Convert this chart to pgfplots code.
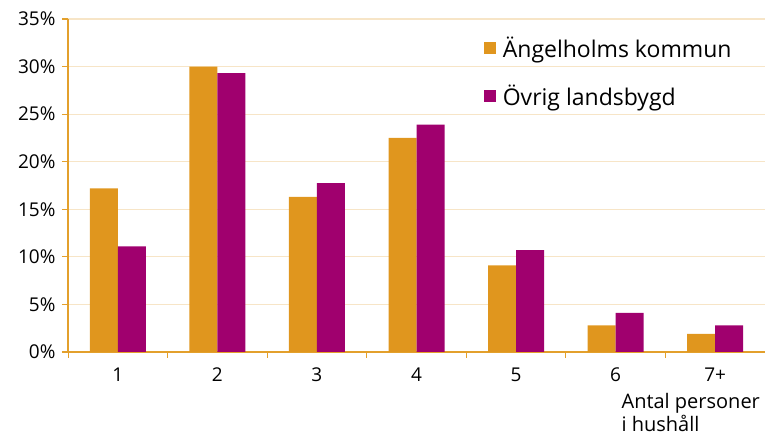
\documentclass[border=0pt]{standalone}
\usepackage{pgfplots}
\pgfplotsset{compat=1.18}
\usepackage{fontspec}
\setmainfont{Open Sans}
\definecolor{orng}{HTML}{E0961E}
\definecolor{purp}{HTML}{A0006E}
\definecolor{axc}{HTML}{E3A02C}
\definecolor{grd}{HTML}{F7E5C7}
\begin{document}
\begin{tikzpicture}
\begin{axis}[
 scale only axis, width=697pt, height=333pt,
 xmin=0.5, xmax=7.5, ymin=0, ymax=35,
 ybar=0pt, bar width=28pt,
 axis x line*=bottom, axis y line*=left,
 axis line style={axc, line width=1.1pt, -},
 xtick={1,...,7}, xticklabels={1,2,3,4,5,6,7+},
 major x tick style={draw=none},
 minor xtick={0.5,1.5,...,7.5},
 minor x tick style={axc, line width=0.9pt},
 ytick={0,5,...,35},
 yticklabel={\pgfmathprintnumber{\tick}\%},
 /pgf/number format/assume math mode=true,
 ymajorgrids, grid style={grd, line width=1.2pt},
 tick style={axc, line width=1.1pt},
 tick align=outside, major tick length=6pt, minor tick length=6pt,
 yticklabel style={font=\fontsize{19}{22}\selectfont, xshift=-3pt},
 xticklabel style={font=\fontsize{19}{22}\selectfont, yshift=-6pt},
 legend style={draw=none, fill=none, at={(rel axis cs:0.592,0.96)}, anchor=north west,
   font=\fontsize{23}{27}\selectfont, row sep=22pt, column sep=0pt,
   /tikz/every odd column/.append style={column sep=5pt}},
 legend cell align=left,
 legend image code/.code={\fill[#1] (0pt,-6pt) rectangle (12pt,6pt);},
 clip=false,
]
\addplot[fill=orng, draw=none] coordinates {(1,17.2) (2,30.0) (3,16.3) (4,22.5) (5,9.1) (6,2.8) (7,1.9)};
\addplot[fill=purp, draw=none] coordinates {(1,11.1) (2,29.3) (3,17.75) (4,23.9) (5,10.7) (6,4.1) (7,2.8)};
\legend{Ängelholms kommun, Övrig landsbygd}
\node[anchor=north west, align=left, inner sep=0pt, font=\fontsize{20}{23}\selectfont] at (rel axis cs:0.794,-0.122) {Antal personer\\i hushåll};
\coordinate (O) at (rel axis cs:0,0);
\coordinate (T) at (rel axis cs:1,1);
\end{axis}
\pgfresetboundingbox
\path ([shift={(-68pt,-85pt)}]O) rectangle ([shift={(0pt,19pt)}]T);
\end{tikzpicture}
\end{document}
